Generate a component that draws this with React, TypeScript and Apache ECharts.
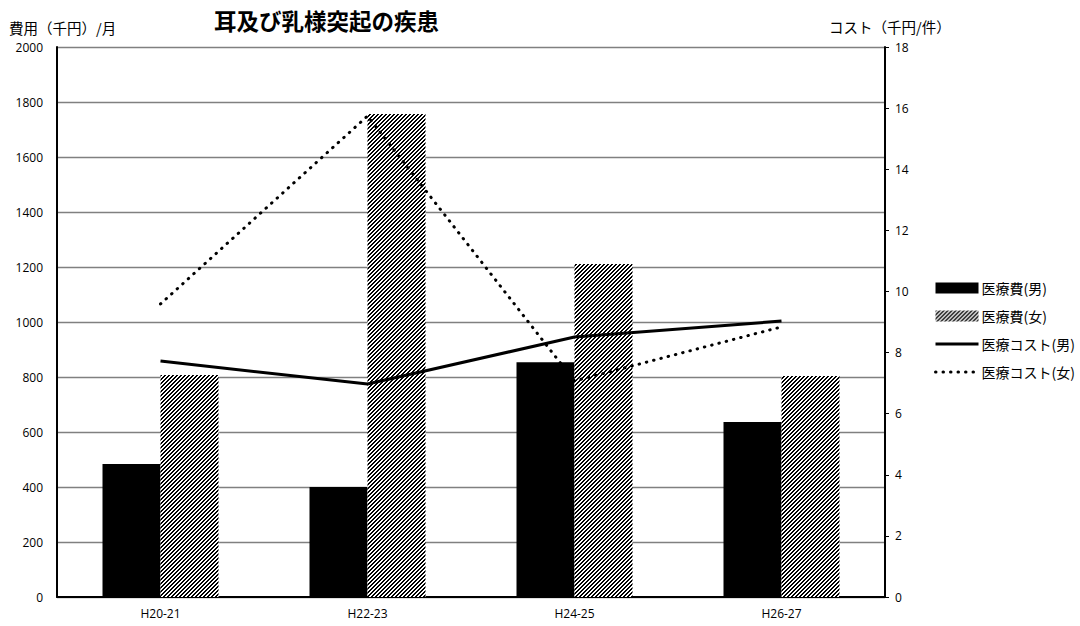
import React, { useEffect, useRef } from "react";
import * as echarts from "echarts";

const categories = ["H20-21", "H22-23", "H24-25", "H26-27"];
const costMale = [484, 400, 854, 636];
const costFemale = [807, 1756, 1211, 804];
const unitMale = [7.72, 6.97, 8.51, 9.03];
const unitFemale = [9.59, 15.74, 7.07, 8.84];
const title = "耳及び乳様突起の疾患";
const leftName = "費用（千円）/月";
const rightName = "コスト（千円/件）";
const seriesNames = ["医療費(男)", "医療費(女)", "医療コスト(男)", "医療コスト(女)"];

function hatchURL(): string {
  const c = document.createElement("canvas");
  c.width = 4;
  c.height = 4;
  const ctx = c.getContext("2d")!;
  ctx.fillStyle = "#ffffff";
  ctx.fillRect(0, 0, 4, 4);
  ctx.fillStyle = "#000000";
  for (let i = 0; i < 4; i++) {
    const x = 3 - i;
    ctx.fillRect(x, i, 1, 1);
    ctx.fillRect((x + 1) % 4, i, 1, 1);
  }
  return c.toDataURL();
}

const FONT = "'Noto Sans CJK JP', 'Noto Sans', sans-serif";
const NUMFONT = "'Open Sans', sans-serif";

export default function App() {
  const ref = useRef<HTMLDivElement>(null);
  useEffect(() => {
    if (!ref.current) return;
    const chart = echarts.init(ref.current, null, { renderer: "svg" });
    const hatch = { image: hatchURL(), repeat: "repeat" } as any;
    chart.setOption({
      animation: false,
      backgroundColor: "#ffffff",
      textStyle: { fontFamily: FONT },
      title: {
        text: title,
        left: 209,
        top: 4,
        textStyle: { fontSize: 22.5, fontWeight: "bold", color: "#000", fontFamily: FONT },
      },
      graphic: [
        {
          type: "text",
          left: 9,
          top: 20,
          style: { text: leftName, fill: "#000", font: `14.5px ${FONT}` },
        },
        {
          type: "text",
          left: 829,
          top: 19,
          style: { text: rightName, fill: "#000", font: `14.5px ${FONT}` },
        },
      ],
      legend: {
        orient: "vertical",
        left: 934,
        top: 281,
        padding: 0,
        itemWidth: 43,
        itemHeight: 11,
        itemGap: 14,
        textStyle: { fontSize: 14, color: "#000", fontFamily: FONT, padding: [0, 0, 0, -2] },
        data: [
          { name: seriesNames[0], icon: "rect" },
          { name: seriesNames[1], icon: "rect" },
          { name: seriesNames[2], itemStyle: { opacity: 0 }, lineStyle: { width: 3 } },
          { name: seriesNames[3], itemStyle: { opacity: 0 }, lineStyle: { width: 3 } },
        ],
      },
      grid: { left: 57, right: 195, top: 47, bottom: 29, containLabel: false },
      xAxis: {
        type: "category",
        data: categories,
        axisLine: { lineStyle: { color: "#000", width: 2 } },
        axisTick: { show: false },
        axisLabel: { color: "#000", fontSize: 12, margin: 10, fontFamily: NUMFONT },
      },
      yAxis: [
        {
          type: "value",
          min: 0,
          max: 2000,
          interval: 200,
          axisLine: { show: true, lineStyle: { color: "#000", width: 2 } },
          axisTick: { show: false },
          splitLine: { show: true, lineStyle: { color: "#808080", width: 1.3 } },
          axisLabel: {
            color: "#000",
            fontSize: 12,
            margin: 14,
            fontFamily: NUMFONT,
            formatter: (v: number) => String(v),
          },
        },
        {
          type: "value",
          min: 0,
          max: 18,
          interval: 2,
          position: "right",
          axisLine: { show: true, lineStyle: { color: "#000", width: 2 } },
          axisTick: { show: true, length: 4, lineStyle: { color: "#000" } },
          splitLine: { show: false },
          axisLabel: { color: "#000", fontSize: 12, margin: 10, fontFamily: NUMFONT },
        },
      ],
      series: [
        {
          name: seriesNames[0],
          type: "bar",
          data: costMale,
          barWidth: 58,
          barGap: "0%",
          itemStyle: { color: "#000000" },
        },
        {
          name: seriesNames[1],
          type: "bar",
          data: costFemale,
          barWidth: 58,
          barGap: "0%",
          itemStyle: { color: hatch },
        },
        {
          name: seriesNames[2],
          type: "line",
          yAxisIndex: 1,
          data: unitMale,
          showSymbol: false,
          symbol: "none",
          lineStyle: { color: "#000", width: 3, type: "solid" },
          itemStyle: { color: "#000" },
        },
        {
          name: seriesNames[3],
          type: "line",
          yAxisIndex: 1,
          data: unitFemale,
          showSymbol: false,
          symbol: "none",
          lineStyle: { color: "#000", width: 3, type: [0.5, 7], cap: "round" },
          itemStyle: { color: "#000" },
        },
      ],
    });
    return () => chart.dispose();
  }, []);
  return (
    <div
      ref={ref}
      style={{ position: "absolute", left: 0, top: 0, width: 1080, height: 626 }}
    />
  );
}
